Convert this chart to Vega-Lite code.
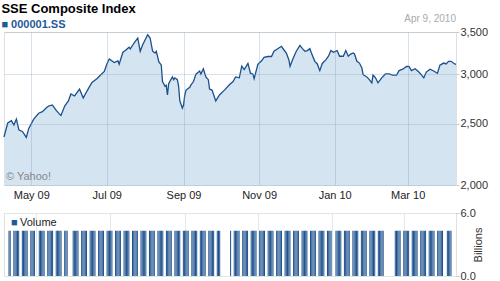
{
  "$schema": "https://vega.github.io/schema/vega-lite/v6.json",
  "padding": {"left": 0, "top": 2, "right": 0, "bottom": 0},
  "background": "white",
  "spacing": 5,
  "config": {
    "font": "Liberation Sans",
    "view": {"stroke": "#e0e0e0"},
    "axis": {"labelFont": "Liberation Sans", "labelFontSize": 11, "labelColor": "#333333", "domain": false, "tickColor": "#c8c8c8", "titleFont": "Liberation Sans"}
  },
  "vconcat": [
    {
      "width": 452,
      "height": 153,
      "title": {"text": "SSE Composite Index", "subtitle": "■ 000001.SS", "anchor": "start", "font": "Liberation Sans", "fontSize": 13, "fontWeight": "bold", "color": "#000000", "subtitleFont": "Liberation Sans", "subtitleFontSize": 11, "subtitleFontWeight": "bold", "subtitleColor": "#1f5a99", "subtitlePadding": 3, "offset": -16, "dx": 0},
      "layer": [
        {
          "data": {"name": "idx"},
          "mark": {"type": "area", "color": "#d5e4f1", "opacity": 1},
          "encoding": {
            "x": {"field": "d", "type": "temporal", "scale": {"type": "utc", "nice": false, "domain": [{"year": 2009, "month": 4, "date": 9, "utc": true}, {"year": 2010, "month": 4, "date": 9, "utc": true}]},
              "axis": {"title": null, "format": "%b %y", "values": [{"year": 2009, "month": 5, "date": 1, "utc": true}, {"year": 2009, "month": 7, "date": 1, "utc": true}, {"year": 2009, "month": 9, "date": 1, "utc": true}, {"year": 2009, "month": 11, "date": 1, "utc": true}, {"year": 2010, "month": 1, "date": 1, "utc": true}, {"year": 2010, "month": 3, "date": 1, "utc": true}], "grid": true, "gridColor": "#6f95bd", "gridOpacity": 0.28, "zindex": 1, "ticks": false, "labelPadding": 4, "labelColor": "#222222"}},
            "y": {"field": "v", "type": "quantitative", "scale": {"type": "log", "nice": false, "domain": [2000, 3500]},
              "axis": {"title": null, "orient": "right", "values": [2000, 2500, 3000, 3500], "format": ",d", "grid": true, "gridColor": "#8a9fb5", "gridOpacity": 0.3, "zindex": 1, "ticks": true, "tickSize": 3, "labelPadding": 1, "labelColor": "#333333"}},
            "y2": {"datum": 2000}
          }
        },
        {
          "data": {"name": "idx"},
          "mark": {"type": "line", "color": "#1b4f8c", "strokeWidth": 1.3},
          "encoding": {
            "x": {"field": "d", "type": "temporal"},
            "y": {"field": "v", "type": "quantitative"}
          }
        },
        {
          "data": {"values": [{"t": "Apr 9, 2010"}]},
          "mark": {"type": "text", "align": "right", "baseline": "bottom", "dy": -8, "fontSize": 10, "color": "#aaaaaa"},
          "encoding": {"x": {"datum": {"year": 2010, "month": 4, "date": 9, "utc": true}, "type": "temporal"}, "y": {"datum": 3500}, "text": {"field": "t"}}
        },
        {
          "data": {"values": [{"t": "© Yahoo!"}]},
          "mark": {"type": "text", "align": "left", "baseline": "bottom", "dx": 2, "dy": -3, "fontSize": 11, "color": "#888888"},
          "encoding": {"x": {"datum": {"year": 2009, "month": 4, "date": 9, "utc": true}, "type": "temporal"}, "y": {"datum": 2000}, "text": {"field": "t"}}
        }
      ]
    },
    {
      "width": 452,
      "height": 63,
      "layer": [
        {
          "data": {"name": "vol"},
          "mark": {"type": "bar", "width": 1, "color": "#1b4f8c"},
          "encoding": {
            "x": {"field": "d", "type": "temporal", "scale": {"type": "utc", "nice": false, "domain": [{"year": 2009, "month": 4, "date": 9, "utc": true}, {"year": 2010, "month": 4, "date": 9, "utc": true}]},
              "axis": {"title": null, "labels": false, "ticks": false, "values": [{"year": 2009, "month": 5, "date": 1, "utc": true}, {"year": 2009, "month": 7, "date": 1, "utc": true}, {"year": 2009, "month": 9, "date": 1, "utc": true}, {"year": 2009, "month": 11, "date": 1, "utc": true}, {"year": 2010, "month": 1, "date": 1, "utc": true}, {"year": 2010, "month": 3, "date": 1, "utc": true}], "grid": true, "gridColor": "#e3e8ee"}},
            "y": {"field": "v", "type": "quantitative", "scale": {"domain": [0, 6], "nice": false},
              "axis": {"orient": "right", "values": [0, 2, 4, 6], "format": ".1f", "title": "Billions", "titleAngle": 270, "titleFontSize": 11, "titleFontWeight": "normal", "titleColor": "#333333", "titlePadding": 8, "grid": true, "gridColor": "#e3e3e3", "ticks": true, "tickSize": 3, "labelPadding": 1}}
          }
        },
        {
          "data": {"values": [{"t": "■"}]},
          "mark": {"type": "text", "align": "left", "baseline": "top", "dx": 2, "dy": 4, "fontSize": 11, "color": "#1f5a99"},
          "encoding": {"x": {"datum": {"year": 2009, "month": 4, "date": 9, "utc": true}, "type": "temporal"}, "y": {"datum": 6}, "text": {"field": "t"}}
        },
        {
          "data": {"values": [{"t": "Volume"}]},
          "mark": {"type": "text", "align": "left", "baseline": "top", "dx": 11, "dy": 4, "fontSize": 11, "color": "#222222"},
          "encoding": {"x": {"datum": {"year": 2009, "month": 4, "date": 9, "utc": true}, "type": "temporal"}, "y": {"datum": 6}, "text": {"field": "t"}}
        }
      ]
    }
  ],
  "datasets": {
    "idx": [
      {"d":"2009-04-09","v":2384},{"d":"2009-04-12","v":2509},{"d":"2009-04-15","v":2530},{"d":"2009-04-17","v":2490},{"d":"2009-04-19","v":2545},{"d":"2009-04-21","v":2447},{"d":"2009-04-24","v":2430},{"d":"2009-04-27","v":2380},{"d":"2009-04-29","v":2460},{"d":"2009-05-03","v":2545},{"d":"2009-05-07","v":2600},{"d":"2009-05-10","v":2615},{"d":"2009-05-13","v":2650},{"d":"2009-05-15","v":2670},{"d":"2009-05-18","v":2680},{"d":"2009-05-21","v":2630},{"d":"2009-05-24","v":2590},{"d":"2009-05-25","v":2580},{"d":"2009-05-28","v":2670},{"d":"2009-05-31","v":2720},
      {"d":"2009-06-02","v":2790},{"d":"2009-06-05","v":2770},{"d":"2009-06-09","v":2840},{"d":"2009-06-12","v":2750},{"d":"2009-06-15","v":2820},{"d":"2009-06-19","v":2910},{"d":"2009-06-23","v":2950},{"d":"2009-06-26","v":2990},{"d":"2009-06-29","v":3030},{"d":"2009-07-01","v":3110},{"d":"2009-07-03","v":3170},{"d":"2009-07-07","v":3130},{"d":"2009-07-10","v":3150},{"d":"2009-07-11","v":3110},{"d":"2009-07-14","v":3250},{"d":"2009-07-16","v":3270},{"d":"2009-07-19","v":3310},{"d":"2009-07-20","v":3290},{"d":"2009-07-23","v":3362},{"d":"2009-07-26","v":3424},{"d":"2009-07-28","v":3262},{"d":"2009-07-30","v":3340},
      {"d":"2009-08-03","v":3466},{"d":"2009-08-05","v":3424},{"d":"2009-08-07","v":3262},{"d":"2009-08-09","v":3240},{"d":"2009-08-10","v":3262},{"d":"2009-08-12","v":3140},{"d":"2009-08-14","v":3100},{"d":"2009-08-15","v":2920},{"d":"2009-08-17","v":2870},{"d":"2009-08-18","v":2880},{"d":"2009-08-19","v":2780},{"d":"2009-08-20","v":2900},{"d":"2009-08-23","v":2970},{"d":"2009-08-24","v":2940},{"d":"2009-08-25","v":2960},{"d":"2009-08-27","v":2940},{"d":"2009-08-28","v":2870},{"d":"2009-08-29","v":2720},{"d":"2009-08-31","v":2650},
      {"d":"2009-09-01","v":2680},{"d":"2009-09-02","v":2780},{"d":"2009-09-03","v":2830},{"d":"2009-09-06","v":2860},{"d":"2009-09-07","v":2885},{"d":"2009-09-09","v":2920},{"d":"2009-09-11","v":3000},{"d":"2009-09-14","v":3035},{"d":"2009-09-15","v":3000},{"d":"2009-09-17","v":3060},{"d":"2009-09-19","v":2970},{"d":"2009-09-21","v":2940},{"d":"2009-09-22","v":2840},{"d":"2009-09-24","v":2830},{"d":"2009-09-27","v":2720},{"d":"2009-09-30","v":2780},
      {"d":"2009-10-04","v":2830},{"d":"2009-10-08","v":2885},{"d":"2009-10-11","v":2920},{"d":"2009-10-13","v":2970},{"d":"2009-10-16","v":2960},{"d":"2009-10-18","v":3090},{"d":"2009-10-20","v":3050},{"d":"2009-10-23","v":3120},{"d":"2009-10-25","v":3010},{"d":"2009-10-27","v":3000},{"d":"2009-10-28","v":2950},{"d":"2009-10-31","v":3110},
      {"d":"2009-11-03","v":3150},{"d":"2009-11-05","v":3190},{"d":"2009-11-08","v":3200},{"d":"2009-11-11","v":3200},{"d":"2009-11-13","v":3262},{"d":"2009-11-16","v":3293},{"d":"2009-11-19","v":3322},{"d":"2009-11-21","v":3280},{"d":"2009-11-23","v":3241},{"d":"2009-11-25","v":3163},{"d":"2009-11-26","v":3087},{"d":"2009-11-28","v":3163},
      {"d":"2009-12-01","v":3262},{"d":"2009-12-04","v":3334},{"d":"2009-12-06","v":3293},{"d":"2009-12-08","v":3262},{"d":"2009-12-10","v":3270},{"d":"2009-12-12","v":3293},{"d":"2009-12-13","v":3250},{"d":"2009-12-16","v":3144},{"d":"2009-12-18","v":3114},{"d":"2009-12-20","v":3039},{"d":"2009-12-22","v":3120},{"d":"2009-12-25","v":3163},{"d":"2009-12-27","v":3203},{"d":"2009-12-29","v":3270},{"d":"2009-12-31","v":3250},
      {"d":"2010-01-03","v":3270},{"d":"2010-01-05","v":3203},{"d":"2010-01-08","v":3203},{"d":"2010-01-10","v":3270},{"d":"2010-01-12","v":3203},{"d":"2010-01-14","v":3229},{"d":"2010-01-16","v":3241},{"d":"2010-01-17","v":3230},{"d":"2010-01-19","v":3144},{"d":"2010-01-21","v":3124},{"d":"2010-01-23","v":3068},{"d":"2010-01-24","v":2994},{"d":"2010-01-27","v":2970},{"d":"2010-01-29","v":2940},{"d":"2010-01-31","v":2906},
      {"d":"2010-02-01","v":2990},{"d":"2010-02-03","v":2960},{"d":"2010-02-05","v":2906},{"d":"2010-02-08","v":2960},{"d":"2010-02-11","v":3002},{"d":"2010-02-14","v":3002},{"d":"2010-02-17","v":2990},{"d":"2010-02-20","v":2990},{"d":"2010-02-22","v":3039},{"d":"2010-02-25","v":3055},{"d":"2010-02-28","v":3085},
      {"d":"2010-03-02","v":3087},{"d":"2010-03-04","v":3039},{"d":"2010-03-07","v":3060},{"d":"2010-03-10","v":3023},{"d":"2010-03-12","v":2994},{"d":"2010-03-14","v":2960},{"d":"2010-03-16","v":3023},{"d":"2010-03-19","v":3055},{"d":"2010-03-22","v":3035},{"d":"2010-03-25","v":3010},{"d":"2010-03-27","v":3100},{"d":"2010-03-30","v":3124},
      {"d":"2010-04-01","v":3114},{"d":"2010-04-03","v":3144},{"d":"2010-04-05","v":3144},{"d":"2010-04-08","v":3114},{"d":"2010-04-09","v":3110}
    ],
    "vol": [
      {"d":"2009-04-09","v":4.3},{"d":"2009-04-10","v":4.3},{"d":"2009-04-13","v":4.3},{"d":"2009-04-14","v":4.3},{"d":"2009-04-15","v":4.3},{"d":"2009-04-16","v":4.3},{"d":"2009-04-17","v":4.3},{"d":"2009-04-20","v":4.3},{"d":"2009-04-21","v":4.3},{"d":"2009-04-22","v":4.3},{"d":"2009-04-23","v":4.3},{"d":"2009-04-24","v":4.3},{"d":"2009-04-27","v":4.3},{"d":"2009-04-28","v":4.3},{"d":"2009-04-29","v":4.3},{"d":"2009-04-30","v":4.3},
      {"d":"2009-05-04","v":4.3},{"d":"2009-05-05","v":4.3},{"d":"2009-05-06","v":4.3},{"d":"2009-05-07","v":4.3},{"d":"2009-05-08","v":4.3},{"d":"2009-05-11","v":4.3},{"d":"2009-05-12","v":4.3},{"d":"2009-05-13","v":4.3},{"d":"2009-05-14","v":4.3},{"d":"2009-05-15","v":4.3},{"d":"2009-05-18","v":4.3},{"d":"2009-05-19","v":4.3},{"d":"2009-05-20","v":4.3},{"d":"2009-05-21","v":4.3},{"d":"2009-05-22","v":4.3},{"d":"2009-05-25","v":4.3},{"d":"2009-05-26","v":4.3},{"d":"2009-05-27","v":4.3},
      {"d":"2009-06-01","v":4.3},{"d":"2009-06-02","v":4.3},{"d":"2009-06-03","v":4.3},{"d":"2009-06-04","v":4.3},{"d":"2009-06-05","v":4.3},{"d":"2009-06-08","v":4.3},{"d":"2009-06-09","v":4.3},{"d":"2009-06-10","v":4.3},{"d":"2009-06-11","v":4.3},{"d":"2009-06-12","v":4.3},{"d":"2009-06-15","v":4.3},{"d":"2009-06-16","v":4.3},{"d":"2009-06-17","v":4.3},{"d":"2009-06-18","v":4.3},{"d":"2009-06-19","v":4.3},{"d":"2009-06-22","v":4.3},{"d":"2009-06-23","v":4.3},{"d":"2009-06-24","v":4.3},{"d":"2009-06-25","v":4.3},{"d":"2009-06-26","v":4.3},{"d":"2009-06-29","v":4.3},{"d":"2009-06-30","v":4.3},
      {"d":"2009-07-01","v":4.3},{"d":"2009-07-02","v":4.3},{"d":"2009-07-03","v":4.3},{"d":"2009-07-06","v":4.3},{"d":"2009-07-07","v":4.3},{"d":"2009-07-08","v":4.3},{"d":"2009-07-09","v":4.3},{"d":"2009-07-10","v":4.3},{"d":"2009-07-13","v":4.3},{"d":"2009-07-14","v":4.3},{"d":"2009-07-15","v":4.3},{"d":"2009-07-16","v":4.3},{"d":"2009-07-17","v":4.3},{"d":"2009-07-20","v":4.3},{"d":"2009-07-21","v":4.3},{"d":"2009-07-22","v":4.3},{"d":"2009-07-23","v":4.3},{"d":"2009-07-24","v":4.3},{"d":"2009-07-27","v":4.3},{"d":"2009-07-28","v":4.3},{"d":"2009-07-29","v":4.3},{"d":"2009-07-30","v":4.3},{"d":"2009-07-31","v":4.3},
      {"d":"2009-08-03","v":4.3},{"d":"2009-08-04","v":4.3},{"d":"2009-08-05","v":4.3},{"d":"2009-08-06","v":4.3},{"d":"2009-08-07","v":4.3},{"d":"2009-08-10","v":4.3},{"d":"2009-08-11","v":4.3},{"d":"2009-08-12","v":4.3},{"d":"2009-08-13","v":4.3},{"d":"2009-08-14","v":4.3},{"d":"2009-08-17","v":4.3},{"d":"2009-08-18","v":4.3},{"d":"2009-08-19","v":4.3},{"d":"2009-08-20","v":4.3},{"d":"2009-08-21","v":4.3},{"d":"2009-08-24","v":4.3},{"d":"2009-08-25","v":4.3},{"d":"2009-08-26","v":4.3},{"d":"2009-08-27","v":4.3},{"d":"2009-08-28","v":4.3},{"d":"2009-08-31","v":4.3},
      {"d":"2009-09-01","v":4.3},{"d":"2009-09-02","v":4.3},{"d":"2009-09-03","v":4.3},{"d":"2009-09-04","v":4.3},{"d":"2009-09-07","v":4.3},{"d":"2009-09-08","v":4.3},{"d":"2009-09-09","v":4.3},{"d":"2009-09-10","v":4.3},{"d":"2009-09-11","v":4.3},{"d":"2009-09-14","v":4.3},{"d":"2009-09-15","v":4.3},{"d":"2009-09-16","v":4.3},{"d":"2009-09-17","v":4.3},{"d":"2009-09-18","v":4.3},{"d":"2009-09-21","v":4.3},{"d":"2009-09-22","v":4.3},{"d":"2009-09-23","v":4.3},{"d":"2009-09-24","v":4.3},{"d":"2009-09-25","v":4.3},{"d":"2009-09-28","v":4.3},{"d":"2009-09-29","v":4.3},{"d":"2009-09-30","v":4.3},
      {"d":"2009-10-09","v":4.3},{"d":"2009-10-12","v":4.3},{"d":"2009-10-13","v":4.3},{"d":"2009-10-14","v":4.3},{"d":"2009-10-15","v":4.3},{"d":"2009-10-16","v":4.3},{"d":"2009-10-19","v":4.3},{"d":"2009-10-20","v":4.3},{"d":"2009-10-21","v":4.3},{"d":"2009-10-22","v":4.3},{"d":"2009-10-23","v":4.3},{"d":"2009-10-26","v":4.3},{"d":"2009-10-27","v":4.3},{"d":"2009-10-28","v":4.3},{"d":"2009-10-29","v":4.3},{"d":"2009-10-30","v":4.3},
      {"d":"2009-11-02","v":4.3},{"d":"2009-11-03","v":4.3},{"d":"2009-11-04","v":4.3},{"d":"2009-11-05","v":4.3},{"d":"2009-11-06","v":4.3},{"d":"2009-11-09","v":4.3},{"d":"2009-11-10","v":4.3},{"d":"2009-11-11","v":4.3},{"d":"2009-11-12","v":4.3},{"d":"2009-11-13","v":4.3},{"d":"2009-11-16","v":4.3},{"d":"2009-11-17","v":4.3},{"d":"2009-11-18","v":4.3},{"d":"2009-11-19","v":4.3},{"d":"2009-11-20","v":4.3},{"d":"2009-11-23","v":4.3},{"d":"2009-11-24","v":4.3},{"d":"2009-11-25","v":4.3},{"d":"2009-11-26","v":4.3},{"d":"2009-11-27","v":4.3},{"d":"2009-11-30","v":4.3},
      {"d":"2009-12-01","v":4.3},{"d":"2009-12-02","v":4.3},{"d":"2009-12-03","v":4.3},{"d":"2009-12-04","v":4.3},{"d":"2009-12-07","v":4.3},{"d":"2009-12-08","v":4.3},{"d":"2009-12-09","v":4.3},{"d":"2009-12-10","v":4.3},{"d":"2009-12-11","v":4.3},{"d":"2009-12-14","v":4.3},{"d":"2009-12-15","v":4.3},{"d":"2009-12-16","v":4.3},{"d":"2009-12-17","v":4.3},{"d":"2009-12-18","v":4.3},{"d":"2009-12-21","v":4.3},{"d":"2009-12-22","v":4.3},{"d":"2009-12-23","v":4.3},{"d":"2009-12-24","v":4.3},{"d":"2009-12-25","v":4.3},{"d":"2009-12-28","v":4.3},{"d":"2009-12-29","v":4.3},{"d":"2009-12-30","v":4.3},{"d":"2009-12-31","v":4.3},
      {"d":"2010-01-04","v":4.3},{"d":"2010-01-05","v":4.3},{"d":"2010-01-06","v":4.3},{"d":"2010-01-07","v":4.3},{"d":"2010-01-08","v":4.3},{"d":"2010-01-11","v":4.3},{"d":"2010-01-12","v":4.3},{"d":"2010-01-13","v":4.3},{"d":"2010-01-14","v":4.3},{"d":"2010-01-15","v":4.3},{"d":"2010-01-18","v":4.3},{"d":"2010-01-19","v":4.3},{"d":"2010-01-20","v":4.3},{"d":"2010-01-21","v":4.3},{"d":"2010-01-22","v":4.3},{"d":"2010-01-25","v":4.3},{"d":"2010-01-26","v":4.3},{"d":"2010-01-27","v":4.3},{"d":"2010-01-28","v":4.3},{"d":"2010-01-29","v":4.3},
      {"d":"2010-02-01","v":4.3},{"d":"2010-02-02","v":4.3},{"d":"2010-02-03","v":4.3},{"d":"2010-02-04","v":4.3},{"d":"2010-02-05","v":4.3},{"d":"2010-02-08","v":4.3},{"d":"2010-02-09","v":4.3},{"d":"2010-02-10","v":4.3},{"d":"2010-02-11","v":4.3},{"d":"2010-02-12","v":4.3},{"d":"2010-02-22","v":4.3},{"d":"2010-02-23","v":4.3},{"d":"2010-02-24","v":4.3},{"d":"2010-02-25","v":4.3},{"d":"2010-02-26","v":4.3},
      {"d":"2010-03-01","v":4.3},{"d":"2010-03-02","v":4.3},{"d":"2010-03-03","v":4.3},{"d":"2010-03-04","v":4.3},{"d":"2010-03-05","v":4.3},{"d":"2010-03-08","v":4.3},{"d":"2010-03-09","v":4.3},{"d":"2010-03-10","v":4.3},{"d":"2010-03-11","v":4.3},{"d":"2010-03-12","v":4.3},{"d":"2010-03-15","v":4.3},{"d":"2010-03-16","v":4.3},{"d":"2010-03-17","v":4.3},{"d":"2010-03-18","v":4.3},{"d":"2010-03-19","v":4.3},{"d":"2010-03-22","v":4.3},{"d":"2010-03-23","v":4.3},{"d":"2010-03-24","v":4.3},{"d":"2010-03-25","v":4.3},{"d":"2010-03-26","v":4.3},{"d":"2010-03-29","v":4.3},{"d":"2010-03-30","v":4.3},{"d":"2010-03-31","v":4.3},
      {"d":"2010-04-01","v":4.3},{"d":"2010-04-02","v":4.3},{"d":"2010-04-06","v":4.3},{"d":"2010-04-07","v":4.3},{"d":"2010-04-08","v":4.3},{"d":"2010-04-09","v":4.3}
    ]
  }
}
